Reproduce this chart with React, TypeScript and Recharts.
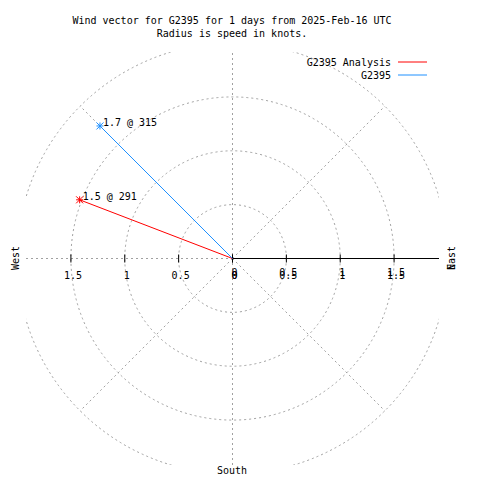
import React from 'react';
import { ScatterChart, Scatter, XAxis, YAxis, ReferenceLine, Customized } from 'recharts';

const titleLines = ['Wind vector for G2395 for 1 days from 2025-Feb-16 UTC', 'Radius is speed in knots.'];
const seriesNames = ['G2395 Analysis', 'G2395'];
const seriesColors = ['#ff0000', '#1e90ff'];
const speeds = [1.52, 1.74];
const directions = [291, 315];
const ringRadii = [0.5, 1, 1.5, 2];
const spokeAngles = [45, 135, 225, 315];
const leftTicks = [-1.5, -1, -0.5, 0];
const rightTicks = [0, 0.5, 1, 1.5];
const compassLabels = ['West', 'East', 'South', 'N'];

const W = 480;
const H = 480;
const MARGIN = { top: 52, right: 41, bottom: 15, left: 26 };
const PLOT = W - MARGIN.left - MARGIN.right; // 413
const RMAX = 1.917;
const FONT = '"DejaVu Sans Mono", "Liberation Mono", monospace';
const GRID = '#a0a0a0';

const rad = (d: number) => (d * Math.PI) / 180;

const vectorData = speeds.map((s, i) => [
  { x: 0, y: 0, end: false },
  {
    x: s * Math.sin(rad(directions[i])),
    y: s * Math.cos(rad(directions[i])),
    end: true,
    label: `${s.toFixed(1)} @ ${directions[i]}`,
  },
]);

const leftTickData = leftTicks.map((t) => ({ x: t, y: 0, label: String(Math.abs(t)) }));
const rightTickData = rightTicks.map((t) => ({ x: t, y: 0, label: String(Math.abs(t)) }));

const Overlay = () => {
  const px = PLOT / (2 * RMAX);
  const cx = MARGIN.left + PLOT / 2;
  const cy = MARGIN.top + PLOT / 2;
  return (
    <g>
      <defs>
        <clipPath id="plotClip">
          <rect x={MARGIN.left} y={MARGIN.top} width={PLOT} height={PLOT} />
        </clipPath>
      </defs>
      <g clipPath="url(#plotClip)">
        {ringRadii.map((r) => (
          <circle key={r} cx={cx} cy={cy} r={r * px} fill="none" stroke={GRID} strokeDasharray="2 3" />
        ))}
      </g>
      {titleLines.map((t, i) => (
        <text key={t} x={232} y={20 + i * 13} textAnchor="middle" dominantBaseline="central" fontFamily={FONT} fontSize={10} fill="#000">
          {t}
        </text>
      ))}
      {seriesNames.map((n, i) => (
        <g key={n}>
          <text x={391} y={62 + i * 13} textAnchor="end" dominantBaseline="central" fontFamily={FONT} fontSize={10} fill="#000">
            {n}
          </text>
          <line x1={398} x2={427} y1={62 + i * 13} y2={62 + i * 13} stroke={seriesColors[i]} />
        </g>
      ))}
      <text x={15} y={258} transform="rotate(-90 15 258)" textAnchor="middle" dominantBaseline="central" fontFamily={FONT} fontSize={10}>
        {compassLabels[0]}
      </text>
      <text x={451} y={258} transform="rotate(-90 451 258)" textAnchor="middle" dominantBaseline="central" fontFamily={FONT} fontSize={10}>
        {compassLabels[1]}
      </text>
      <text x={451} y={267} transform="rotate(-90 451 267)" textAnchor="middle" dominantBaseline="central" fontFamily={FONT} fontSize={10}>
        {compassLabels[3]}
      </text>
      <text x={232} y={470} textAnchor="middle" dominantBaseline="central" fontFamily={FONT} fontSize={10}>
        {compassLabels[2]}
      </text>
    </g>
  );
};

const makeTickShape = (offsets: number[]) => (p: any) => (
  <g>
    <line x1={p.cx} x2={p.cx} y1={p.cy - 4} y2={p.cy + 4} stroke="#000" />
    {offsets.map((o) => (
      <text key={o} x={p.cx + 2} y={p.cy + o} textAnchor="middle" dominantBaseline="central" fontFamily={FONT} fontSize={10} fill="#000">
        {p.payload.label}
      </text>
    ))}
  </g>
);

const makeVectorShape = (color: string) => (p: any) => {
  if (!p.payload || !p.payload.end) return <g />;
  const s = 3.5;
  return (
    <g>
      <line x1={p.cx - s} x2={p.cx + s} y1={p.cy} y2={p.cy} stroke={color} />
      <line x1={p.cx} x2={p.cx} y1={p.cy - s} y2={p.cy + s} stroke={color} />
      <line x1={p.cx - s} x2={p.cx + s} y1={p.cy - s} y2={p.cy + s} stroke={color} />
      <line x1={p.cx - s} x2={p.cx + s} y1={p.cy + s} y2={p.cy - s} stroke={color} />
      <text x={p.cx + 3} y={p.cy - 3} dominantBaseline="central" fontFamily={FONT} fontSize={10} fill="#000">
        {p.payload.label}
      </text>
    </g>
  );
};

export default function App() {
  return (
    <div style={{ position: 'absolute', left: 0, top: 0, background: '#fff' }}>
      <ScatterChart width={W} height={H} margin={MARGIN}>
        <XAxis type="number" dataKey="x" domain={[-RMAX, RMAX]} hide allowDataOverflow />
        <YAxis type="number" dataKey="y" domain={[-RMAX, RMAX]} hide allowDataOverflow />
        <Customized component={<Overlay />} />
        <ReferenceLine x={0} stroke={GRID} strokeDasharray="2 3" />
        <ReferenceLine segment={[{ x: -RMAX, y: 0 }, { x: 0, y: 0 }]} stroke={GRID} strokeDasharray="2 3" ifOverflow="visible" />
        {spokeAngles.map((a) => (
          <ReferenceLine
            key={a}
            segment={[
              { x: 0, y: 0 },
              { x: ringRadii[3] * Math.sin(rad(a)), y: ringRadii[3] * Math.cos(rad(a)) },
            ]}
            stroke={GRID}
            strokeDasharray="2 3"
            ifOverflow="visible"
          />
        ))}
        <ReferenceLine segment={[{ x: 0, y: 0 }, { x: RMAX, y: 0 }]} stroke="#000" ifOverflow="visible" />
        <Scatter data={leftTickData} shape={makeTickShape([16.5])} isAnimationActive={false} />
        <Scatter data={rightTickData} shape={makeTickShape([14, 16.5])} isAnimationActive={false} />
        {vectorData.map((d, i) => (
          <Scatter
            key={seriesNames[i]}
            name={seriesNames[i]}
            data={d}
            fill={seriesColors[i]}
            line={{ stroke: seriesColors[i], strokeWidth: 1 }}
            lineType="joint"
            shape={makeVectorShape(seriesColors[i])}
            isAnimationActive={false}
          />
        ))}
      </ScatterChart>
    </div>
  );
}
